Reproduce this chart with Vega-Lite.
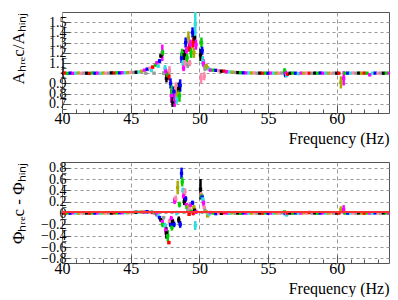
{
  "$schema": "https://vega.github.io/schema/vega-lite/v6.json",
  "background": "white",
  "padding": {"left": 8, "top": 9, "right": 8, "bottom": 0},
  "bounds": "flush",
  "spacing": 49,
  "config": {
    "font": "Liberation Serif",
    "view": {"stroke": "#555", "strokeWidth": 1},
    "axis": {
      "domain": false,
      "labelFont": "Liberation Serif",
      "titleFont": "Liberation Serif",
      "titleFontWeight": "normal",
      "labelColor": "black",
      "titleColor": "black",
      "tickColor": "#555",
      "gridColor": "#999",
      "labelFlush": false,
      "labelOverlap": false,
      "tickCount": 200
    }
  },
  "datasets": {
    "d": [
      {"f":40.0,"a":1.0,"ae":0.006,"p":0.0,"pe":0.006,"s":"k"},
      {"f":40.2,"a":1.002,"ae":0.006,"p":-0.003,"pe":0.006,"s":"r"},
      {"f":40.4,"a":0.998,"ae":0.006,"p":0.002,"pe":0.006,"s":"g"},
      {"f":40.6,"a":1.001,"ae":0.006,"p":-0.002,"pe":0.006,"s":"b"},
      {"f":40.8,"a":0.999,"ae":0.006,"p":0.003,"pe":0.006,"s":"m"},
      {"f":41.0,"a":1.0,"ae":0.006,"p":0.0,"pe":0.006,"s":"c"},
      {"f":41.2,"a":1.002,"ae":0.006,"p":-0.003,"pe":0.006,"s":"o"},
      {"f":41.4,"a":0.999,"ae":0.006,"p":0.002,"pe":0.006,"s":"p"},
      {"f":41.6,"a":1.001,"ae":0.006,"p":-0.002,"pe":0.006,"s":"y"},
      {"f":41.8,"a":1.0,"ae":0.006,"p":0.001,"pe":0.006,"s":"k"},
      {"f":42.0,"a":0.998,"ae":0.006,"p":-0.002,"pe":0.006,"s":"r"},
      {"f":42.2,"a":1.002,"ae":0.006,"p":0.002,"pe":0.006,"s":"g"},
      {"f":42.4,"a":1.0,"ae":0.006,"p":-0.001,"pe":0.006,"s":"b"},
      {"f":42.6,"a":1.001,"ae":0.006,"p":0.003,"pe":0.006,"s":"m"},
      {"f":42.8,"a":0.999,"ae":0.006,"p":-0.002,"pe":0.006,"s":"c"},
      {"f":43.0,"a":1.002,"ae":0.006,"p":0.002,"pe":0.006,"s":"o"},
      {"f":43.2,"a":1.0,"ae":0.006,"p":-0.002,"pe":0.006,"s":"p"},
      {"f":43.4,"a":1.001,"ae":0.006,"p":0.003,"pe":0.006,"s":"y"},
      {"f":43.6,"a":1.003,"ae":0.006,"p":0.0,"pe":0.006,"s":"k"},
      {"f":43.8,"a":1.002,"ae":0.006,"p":0.004,"pe":0.006,"s":"r"},
      {"f":44.0,"a":1.004,"ae":0.006,"p":0.003,"pe":0.006,"s":"g"},
      {"f":44.2,"a":1.003,"ae":0.006,"p":0.006,"pe":0.006,"s":"b"},
      {"f":44.4,"a":1.005,"ae":0.006,"p":0.005,"pe":0.006,"s":"m"},
      {"f":44.6,"a":1.004,"ae":0.006,"p":0.008,"pe":0.006,"s":"c"},
      {"f":44.8,"a":1.006,"ae":0.006,"p":0.007,"pe":0.006,"s":"o"},
      {"f":45.0,"a":1.008,"ae":0.006,"p":0.01,"pe":0.006,"s":"p"},
      {"f":45.2,"a":1.007,"ae":0.006,"p":0.012,"pe":0.006,"s":"y"},
      {"f":45.4,"a":1.01,"ae":0.006,"p":0.015,"pe":0.006,"s":"k"},
      {"f":45.6,"a":1.012,"ae":0.008,"p":0.018,"pe":0.008,"s":"c"},
      {"f":45.8,"a":1.02,"ae":0.01,"p":0.02,"pe":0.01,"s":"o"},
      {"f":46.0,"a":1.03,"ae":0.01,"p":0.015,"pe":0.01,"s":"m"},
      {"f":46.1,"a":1.0,"ae":0.006,"p":0.02,"pe":0.008,"s":"y"},
      {"f":46.2,"a":1.04,"ae":0.012,"p":0.025,"pe":0.01,"s":"b"},
      {"f":46.4,"a":1.05,"ae":0.01,"p":0.015,"pe":0.01,"s":"p"},
      {"f":46.5,"a":1.025,"ae":0.01,"p":0.02,"pe":0.01,"s":"c"},
      {"f":46.6,"a":1.06,"ae":0.015,"p":0.01,"pe":0.01,"s":"r"},
      {"f":46.7,"a":1.0,"ae":0.006,"p":0.005,"pe":0.01,"s":"y"},
      {"f":46.8,"a":1.08,"ae":0.015,"p":0.0,"pe":0.012,"s":"g"},
      {"f":46.9,"a":1.1,"ae":0.02,"p":-0.03,"pe":0.02,"s":"m"},
      {"f":47.0,"a":1.07,"ae":0.015,"p":-0.05,"pe":0.02,"s":"c"},
      {"f":47.1,"a":1.12,"ae":0.02,"p":-0.08,"pe":0.03,"s":"b"},
      {"f":47.2,"a":1.17,"ae":0.02,"p":-0.12,"pe":0.03,"s":"k"},
      {"f":47.3,"a":1.2,"ae":0.08,"p":-0.15,"pe":0.04,"s":"m"},
      {"f":47.32,"a":1.2,"ae":0.03,"p":-0.2,"pe":0.05,"s":"g"},
      {"f":47.4,"a":1.0,"ae":0.02,"p":-0.08,"pe":0.03,"s":"y"},
      {"f":47.5,"a":1.05,"ae":0.03,"p":-0.22,"pe":0.05,"s":"c"},
      {"f":47.55,"a":1.02,"ae":0.03,"p":-0.3,"pe":0.08,"s":"m"},
      {"f":47.6,"a":0.95,"ae":0.04,"p":-0.35,"pe":0.1,"s":"k"},
      {"f":47.7,"a":0.98,"ae":0.04,"p":-0.4,"pe":0.1,"s":"g"},
      {"f":47.78,"a":0.97,"ae":0.04,"p":-0.52,"pe":0.03,"s":"r"},
      {"f":47.82,"a":1.03,"ae":0.04,"p":-0.15,"pe":0.05,"s":"p"},
      {"f":47.9,"a":0.9,"ae":0.05,"p":-0.2,"pe":0.05,"s":"b"},
      {"f":47.95,"a":0.78,"ae":0.07,"p":-0.1,"pe":0.05,"s":"m"},
      {"f":48.0,"a":0.82,"ae":0.06,"p":-0.25,"pe":0.06,"s":"g"},
      {"f":48.05,"a":0.72,"ae":0.05,"p":-0.15,"pe":0.05,"s":"k"},
      {"f":48.15,"a":0.82,"ae":0.05,"p":-0.2,"pe":0.05,"s":"b"},
      {"f":48.2,"a":0.74,"ae":0.07,"p":0.22,"pe":0.06,"s":"m"},
      {"f":48.28,"a":0.86,"ae":0.05,"p":0.25,"pe":0.06,"s":"p"},
      {"f":48.35,"a":0.75,"ae":0.05,"p":0.0,"pe":0.04,"s":"c"},
      {"f":48.42,"a":0.8,"ae":0.06,"p":0.45,"pe":0.12,"s":"o"},
      {"f":48.5,"a":0.85,"ae":0.06,"p":-0.12,"pe":0.06,"s":"k"},
      {"f":48.55,"a":0.78,"ae":0.06,"p":0.15,"pe":0.05,"s":"g"},
      {"f":48.6,"a":0.88,"ae":0.06,"p":-0.2,"pe":0.06,"s":"b"},
      {"f":48.7,"a":1.15,"ae":0.05,"p":0.7,"pe":0.1,"s":"b"},
      {"f":48.75,"a":1.2,"ae":0.04,"p":0.55,"pe":0.08,"s":"g"},
      {"f":48.8,"a":1.1,"ae":0.03,"p":0.4,"pe":0.05,"s":"c"},
      {"f":48.85,"a":1.05,"ae":0.03,"p":0.3,"pe":0.05,"s":"m"},
      {"f":48.9,"a":1.18,"ae":0.05,"p":0.2,"pe":0.06,"s":"k"},
      {"f":48.95,"a":1.1,"ae":0.03,"p":0.38,"pe":0.06,"s":"p"},
      {"f":49.0,"a":1.3,"ae":0.05,"p":0.25,"pe":0.05,"s":"b"},
      {"f":49.05,"a":1.22,"ae":0.04,"p":0.15,"pe":0.03,"s":"m"},
      {"f":49.1,"a":1.15,"ae":0.04,"p":0.1,"pe":0.03,"s":"g"},
      {"f":49.15,"a":1.08,"ae":0.03,"p":0.05,"pe":0.03,"s":"y"},
      {"f":49.2,"a":1.35,"ae":0.06,"p":0.12,"pe":0.04,"s":"o"},
      {"f":49.25,"a":1.25,"ae":0.04,"p":-0.02,"pe":0.03,"s":"r"},
      {"f":49.3,"a":1.1,"ae":0.03,"p":0.08,"pe":0.03,"s":"p"},
      {"f":49.35,"a":1.28,"ae":0.05,"p":0.14,"pe":0.03,"s":"m"},
      {"f":49.4,"a":1.2,"ae":0.05,"p":0.03,"pe":0.03,"s":"g"},
      {"f":49.5,"a":1.4,"ae":0.05,"p":0.18,"pe":0.04,"s":"b"},
      {"f":49.55,"a":1.3,"ae":0.05,"p":0.0,"pe":0.04,"s":"r"},
      {"f":49.6,"a":1.2,"ae":0.05,"p":0.1,"pe":0.04,"s":"o"},
      {"f":49.65,"a":1.35,"ae":0.06,"p":0.05,"pe":0.03,"s":"k"},
      {"f":49.7,"a":1.48,"ae":0.14,"p":-0.22,"pe":0.08,"s":"c"},
      {"f":49.75,"a":1.28,"ae":0.05,"p":0.02,"pe":0.03,"s":"m"},
      {"f":50.08,"a":1.18,"ae":0.06,"p":0.42,"pe":0.18,"s":"k"},
      {"f":50.12,"a":0.95,"ae":0.05,"p":0.32,"pe":0.05,"s":"p"},
      {"f":50.15,"a":1.3,"ae":0.05,"p":0.3,"pe":0.05,"s":"g"},
      {"f":50.2,"a":1.22,"ae":0.04,"p":0.28,"pe":0.05,"s":"b"},
      {"f":50.25,"a":1.12,"ae":0.05,"p":0.25,"pe":0.05,"s":"c"},
      {"f":50.3,"a":1.1,"ae":0.04,"p":0.18,"pe":0.06,"s":"m"},
      {"f":50.35,"a":0.97,"ae":0.04,"p":0.1,"pe":0.03,"s":"p"},
      {"f":50.4,"a":1.05,"ae":0.03,"p":0.05,"pe":0.03,"s":"y"},
      {"f":50.5,"a":1.07,"ae":0.02,"p":0.02,"pe":0.02,"s":"o"},
      {"f":50.6,"a":1.05,"ae":0.02,"p":-0.05,"pe":0.02,"s":"o"},
      {"f":50.7,"a":1.04,"ae":0.01,"p":-0.02,"pe":0.02,"s":"c"},
      {"f":50.8,"a":1.03,"ae":0.01,"p":0.01,"pe":0.01,"s":"m"},
      {"f":51.0,"a":1.03,"ae":0.008,"p":0.0,"pe":0.008,"s":"g"},
      {"f":51.2,"a":1.028,"ae":0.008,"p":-0.01,"pe":0.008,"s":"b"},
      {"f":51.4,"a":1.025,"ae":0.008,"p":0.0,"pe":0.008,"s":"p"},
      {"f":51.6,"a":1.02,"ae":0.006,"p":-0.005,"pe":0.006,"s":"k"},
      {"f":51.8,"a":1.02,"ae":0.006,"p":0.005,"pe":0.006,"s":"r"},
      {"f":52.0,"a":1.015,"ae":0.006,"p":0.0,"pe":0.006,"s":"m"},
      {"f":52.2,"a":1.012,"ae":0.006,"p":-0.005,"pe":0.006,"s":"c"},
      {"f":52.4,"a":1.01,"ae":0.006,"p":0.003,"pe":0.006,"s":"o"},
      {"f":52.6,"a":1.008,"ae":0.006,"p":-0.003,"pe":0.006,"s":"y"},
      {"f":52.8,"a":1.006,"ae":0.006,"p":0.0,"pe":0.006,"s":"k"},
      {"f":53.0,"a":1.005,"ae":0.006,"p":-0.004,"pe":0.006,"s":"g"},
      {"f":53.2,"a":1.004,"ae":0.006,"p":0.002,"pe":0.006,"s":"b"},
      {"f":53.4,"a":1.003,"ae":0.006,"p":-0.003,"pe":0.006,"s":"m"},
      {"f":53.6,"a":1.003,"ae":0.006,"p":0.0,"pe":0.006,"s":"c"},
      {"f":53.8,"a":1.002,"ae":0.006,"p":-0.002,"pe":0.006,"s":"o"},
      {"f":54.0,"a":1.002,"ae":0.006,"p":0.002,"pe":0.006,"s":"p"},
      {"f":54.2,"a":1.0,"ae":0.006,"p":-0.003,"pe":0.006,"s":"y"},
      {"f":54.4,"a":1.001,"ae":0.006,"p":0.0,"pe":0.006,"s":"k"},
      {"f":54.6,"a":1.0,"ae":0.006,"p":-0.002,"pe":0.006,"s":"r"},
      {"f":54.8,"a":1.001,"ae":0.006,"p":0.002,"pe":0.006,"s":"g"},
      {"f":55.0,"a":1.0,"ae":0.006,"p":-0.003,"pe":0.006,"s":"b"},
      {"f":55.2,"a":1.001,"ae":0.006,"p":0.0,"pe":0.006,"s":"m"},
      {"f":55.4,"a":1.0,"ae":0.006,"p":-0.002,"pe":0.006,"s":"c"},
      {"f":55.6,"a":1.001,"ae":0.006,"p":0.001,"pe":0.006,"s":"o"},
      {"f":55.8,"a":1.0,"ae":0.006,"p":-0.003,"pe":0.006,"s":"p"},
      {"f":56.0,"a":1.002,"ae":0.006,"p":0.0,"pe":0.006,"s":"y"},
      {"f":56.2,"a":1.02,"ae":0.03,"p":0.02,"pe":0.02,"s":"g"},
      {"f":56.25,"a":0.99,"ae":0.03,"p":-0.01,"pe":0.015,"s":"b"},
      {"f":56.3,"a":1.0,"ae":0.025,"p":0.0,"pe":0.02,"s":"m"},
      {"f":56.35,"a":0.98,"ae":0.02,"p":-0.03,"pe":0.03,"s":"c"},
      {"f":56.4,"a":0.99,"ae":0.015,"p":0.0,"pe":0.01,"s":"r"},
      {"f":56.6,"a":1.0,"ae":0.006,"p":0.0,"pe":0.006,"s":"k"},
      {"f":56.8,"a":1.001,"ae":0.006,"p":-0.002,"pe":0.006,"s":"g"},
      {"f":57.0,"a":1.0,"ae":0.006,"p":0.002,"pe":0.006,"s":"b"},
      {"f":57.2,"a":0.996,"ae":0.006,"p":-0.003,"pe":0.006,"s":"c"},
      {"f":57.4,"a":1.001,"ae":0.006,"p":0.0,"pe":0.006,"s":"m"},
      {"f":57.6,"a":1.0,"ae":0.006,"p":0.003,"pe":0.006,"s":"o"},
      {"f":57.8,"a":1.001,"ae":0.006,"p":-0.002,"pe":0.006,"s":"p"},
      {"f":58.0,"a":1.0,"ae":0.006,"p":0.01,"pe":0.008,"s":"r"},
      {"f":58.2,"a":0.999,"ae":0.006,"p":-0.002,"pe":0.006,"s":"y"},
      {"f":58.4,"a":1.001,"ae":0.006,"p":0.002,"pe":0.006,"s":"k"},
      {"f":58.6,"a":1.0,"ae":0.006,"p":-0.003,"pe":0.006,"s":"g"},
      {"f":58.8,"a":1.002,"ae":0.006,"p":0.0,"pe":0.006,"s":"b"},
      {"f":59.0,"a":1.0,"ae":0.006,"p":0.002,"pe":0.006,"s":"m"},
      {"f":59.2,"a":1.001,"ae":0.006,"p":-0.002,"pe":0.006,"s":"c"},
      {"f":59.4,"a":1.0,"ae":0.006,"p":0.0,"pe":0.006,"s":"o"},
      {"f":59.6,"a":0.999,"ae":0.006,"p":0.002,"pe":0.006,"s":"p"},
      {"f":59.8,"a":1.001,"ae":0.006,"p":-0.003,"pe":0.006,"s":"y"},
      {"f":60.0,"a":1.0,"ae":0.006,"p":0.0,"pe":0.006,"s":"k"},
      {"f":60.15,"a":1.0,"ae":0.008,"p":0.0,"pe":0.008,"s":"r"},
      {"f":60.3,"a":0.91,"ae":0.06,"p":0.06,"pe":0.06,"s":"o"},
      {"f":60.5,"a":0.95,"ae":0.07,"p":0.06,"pe":0.08,"s":"m"},
      {"f":60.6,"a":1.0,"ae":0.008,"p":0.0,"pe":0.006,"s":"g"},
      {"f":60.8,"a":1.001,"ae":0.006,"p":-0.002,"pe":0.006,"s":"b"},
      {"f":61.0,"a":1.0,"ae":0.006,"p":0.002,"pe":0.006,"s":"c"},
      {"f":61.2,"a":1.002,"ae":0.006,"p":0.0,"pe":0.006,"s":"p"},
      {"f":61.4,"a":1.0,"ae":0.006,"p":-0.002,"pe":0.006,"s":"y"},
      {"f":61.6,"a":1.001,"ae":0.006,"p":0.002,"pe":0.006,"s":"k"},
      {"f":61.8,"a":1.0,"ae":0.006,"p":0.0,"pe":0.006,"s":"o"},
      {"f":62.0,"a":1.001,"ae":0.006,"p":-0.002,"pe":0.006,"s":"r"},
      {"f":62.2,"a":1.0,"ae":0.006,"p":0.002,"pe":0.006,"s":"g"},
      {"f":62.4,"a":0.985,"ae":0.015,"p":0.0,"pe":0.008,"s":"m"},
      {"f":62.6,"a":1.0,"ae":0.006,"p":-0.002,"pe":0.006,"s":"c"},
      {"f":62.8,"a":1.001,"ae":0.006,"p":0.002,"pe":0.006,"s":"b"},
      {"f":63.0,"a":1.0,"ae":0.006,"p":0.0,"pe":0.006,"s":"p"},
      {"f":63.2,"a":1.001,"ae":0.006,"p":-0.002,"pe":0.006,"s":"y"},
      {"f":63.4,"a":1.0,"ae":0.006,"p":0.002,"pe":0.006,"s":"k"},
      {"f":63.6,"a":1.001,"ae":0.006,"p":0.0,"pe":0.006,"s":"g"},
      {"f":63.8,"a":1.0,"ae":0.006,"p":-0.002,"pe":0.006,"s":"m"}
    ]
  },
  "vconcat": [
    {
      "width": 327,
      "height": 101,
      "data": {"name": "d"},
      "layer": [
        {
          "mark": {"type": "errorbar", "ticks": false, "thickness": 2.5},
          "encoding": {
            "x": {
              "field": "f", "type": "quantitative",
              "scale": {"domain": [40, 63.8], "nice": false, "zero": false},
              "axis": {
                "values": [40,41,42,43,44,45,46,47,48,49,50,51,52,53,54,55,56,57,58,59,60,61,62,63],
                "tickCount": 200,
                "labelExpr": "datum.value % 5 === 0 ? format(datum.value, 'd') : ''",
                "gridOpacity": {"condition": {"test": "datum.value % 5 === 0", "value": 1}, "value": 0},
                "tickSize": {"condition": {"test": "datum.value % 5 === 0", "value": -8}, "value": -4},
                "gridDash": [4, 3],
                "labelFontSize": 16,
                "labelPadding": 5,
                "title": "Frequency (Hz)",
                "titleFontSize": 16,
                "titleAnchor": "end",
                "titlePadding": 0
              }
            },
            "y": {
              "field": "a", "type": "quantitative",
              "scale": {"domain": [0.61, 1.6], "nice": false, "zero": false, "clamp": true},
              "axis": {
                "values": [0.65,0.7,0.75,0.8,0.85,0.9,0.95,1.0,1.05,1.1,1.15,1.2,1.25,1.3,1.35,1.4,1.45,1.5,1.55],
                "tickCount": 200,
                "labelExpr": "abs(round(datum.value*100)) % 10 === 0 ? format(datum.value, '.1~f') : ''",
                "gridOpacity": {"condition": {"test": "abs(round(datum.value*100)) % 10 === 0", "value": 1}, "value": 0},
                "tickSize": {"condition": {"test": "abs(round(datum.value*100)) % 10 === 0", "value": -8}, "value": -4},
                "gridDash": [3, 3],
                "labelFontSize": 14,
                "labelPadding": 4,
                "minExtent": 30,
                "maxExtent": 30,
                "title": "Aₕᵣₑc/Aₕᵢₙⱼ",
                "titleFontSize": 17,
                "titleAnchor": "end",
                "titlePadding": 5
              }
            },
            "yError": {"field": "ae"},
            "color": {
              "field": "s", "type": "nominal", "legend": null,
              "scale": {"domain": ["k","r","g","b","m","c","o","p","y"],
                        "range": ["#000000","#ff0000","#00d000","#0000ff","#ff00ff","#33dddd","#aaaa00","#ff88aa","#999999"]}
            }
          }
        },
        {
          "mark": {"type": "square", "size": 11, "filled": true, "opacity": 1, "clip": true},
          "encoding": {
            "x": {"field": "f", "type": "quantitative"},
            "y": {"field": "a", "type": "quantitative"},
            "color": {"field": "s", "type": "nominal", "legend": null}
          }
        }
      ]
    },
    {
      "width": 327,
      "height": 101,
      "data": {"name": "d"},
      "layer": [
        {
          "mark": {"type": "errorbar", "ticks": false, "thickness": 2.5},
          "encoding": {
            "x": {
              "field": "f", "type": "quantitative",
              "scale": {"domain": [40, 63.8], "nice": false, "zero": false},
              "axis": {
                "values": [40,41,42,43,44,45,46,47,48,49,50,51,52,53,54,55,56,57,58,59,60,61,62,63],
                "tickCount": 200,
                "labelExpr": "datum.value % 5 === 0 ? format(datum.value, 'd') : ''",
                "gridOpacity": {"condition": {"test": "datum.value % 5 === 0", "value": 1}, "value": 0},
                "tickSize": {"condition": {"test": "datum.value % 5 === 0", "value": -8}, "value": -4},
                "gridDash": [4, 3],
                "labelFontSize": 16,
                "labelPadding": 5,
                "title": "Frequency (Hz)",
                "titleFontSize": 16,
                "titleAnchor": "end",
                "titlePadding": 0
              }
            },
            "y": {
              "field": "p", "type": "quantitative",
              "scale": {"domain": [-0.88, 0.9], "nice": false, "zero": false, "clamp": true},
              "axis": {
                "values": [-0.8,-0.7,-0.6,-0.5,-0.4,-0.3,-0.2,-0.1,0,0.1,0.2,0.3,0.4,0.5,0.6,0.7,0.8],
                "tickCount": 200,
                "labelExpr": "abs(round(datum.value*10)) % 2 === 0 ? format(datum.value, '.1~f') : ''",
                "gridOpacity": {"condition": {"test": "abs(round(datum.value*10)) % 2 === 0", "value": 1}, "value": 0},
                "tickSize": {"condition": {"test": "abs(round(datum.value*10)) % 2 === 0", "value": -8}, "value": -4},
                "gridDash": [3, 3],
                "labelFontSize": 14,
                "labelPadding": 4,
                "minExtent": 30,
                "maxExtent": 30,
                "title": "Φₕᵣₑc - Φₕᵢₙⱼ",
                "titleFontSize": 17,
                "titleAnchor": "end",
                "titlePadding": 5
              }
            },
            "yError": {"field": "pe"},
            "color": {
              "field": "s", "type": "nominal", "legend": null,
              "scale": {"domain": ["k","r","g","b","m","c","o","p","y"],
                        "range": ["#000000","#ff0000","#00d000","#0000ff","#ff00ff","#33dddd","#aaaa00","#ff88aa","#999999"]}
            }
          }
        },
        {
          "mark": {"type": "square", "size": 11, "filled": true, "opacity": 1, "clip": true},
          "encoding": {
            "x": {"field": "f", "type": "quantitative"},
            "y": {"field": "p", "type": "quantitative"},
            "color": {"field": "s", "type": "nominal", "legend": null}
          }
        },
        {
          "mark": {"type": "rule", "color": "#ff3333", "strokeWidth": 1.2},
          "encoding": {"y": {"datum": 0.02}}
        }
      ]
    }
  ]
}
